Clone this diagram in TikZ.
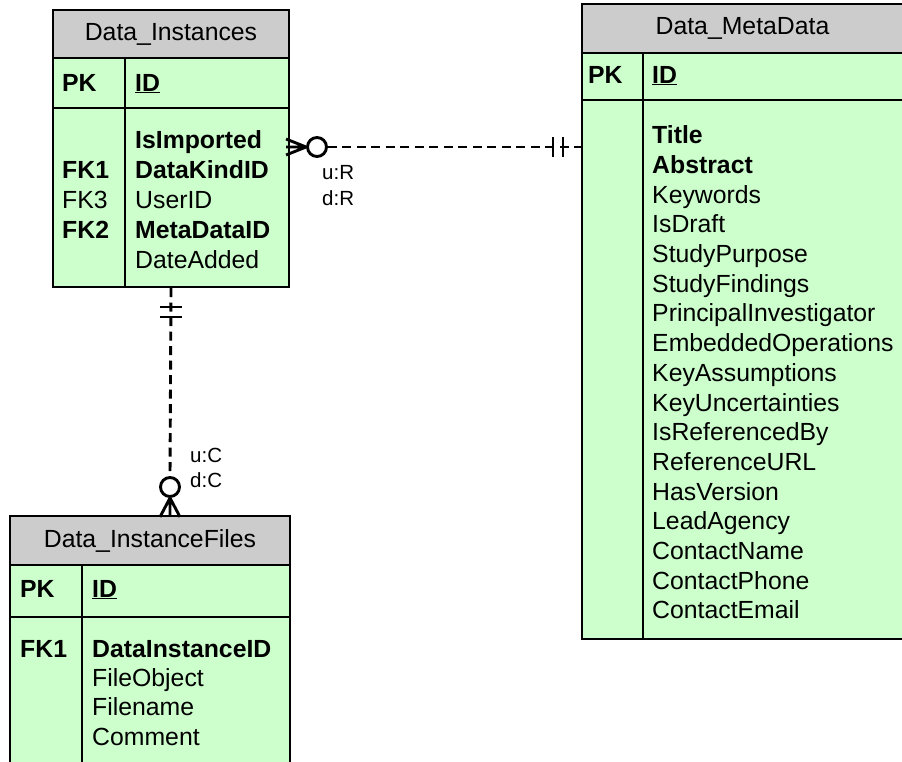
\documentclass[tikz,border=0pt]{standalone}
\usepackage{fontspec}
\setmainfont{Liberation Sans}
\usepackage{color}
\definecolor{headgray}{RGB}{204,204,204}
\definecolor{rowgreen}{RGB}{204,255,204}

\begin{document}
\begin{tikzpicture}[x=1pt,y=-1pt,
  head/.style={rectangle,draw,fill=headgray,line width=2pt,anchor=north west,inner sep=0pt,font=\fontsize{24.8}{28}\selectfont},
  row/.style={rectangle,draw,fill=rowgreen,line width=2pt,anchor=north west,inner sep=0pt},
  rule/.style={line width=2pt},
  txt/.style={anchor=base west,inner sep=0pt,font=\fontsize{24.8}{30}\selectfont},
  lines/.style={anchor=north west,inner sep=0pt,align=left},
  lbl/.style={anchor=base west,inner sep=0pt,font=\fontsize{20.5}{26}\selectfont},
  conn/.style={line width=2.9pt,dash pattern=on 9pt off 5.5pt},
  tick/.style={line width=2.9pt},
  ring/.style={circle,draw,line width=2.9pt,fill=white,minimum size=19pt,inner sep=0pt}]
\useasboundingbox (0,0) rectangle (902,761);
\clip (0,0) rectangle (902,761);

% Data_Instances
\node[head,minimum width=236,minimum height=48] (instHead) at (52,9) {Data\_Instances};
\node[row,minimum width=236,minimum height=50] (instPK) at (52,57) {};
\node[row,minimum width=236,minimum height=179] (instBody) at (52,107) {};
\draw[rule] ([xshift=73]instPK.north west) -- ([xshift=73]instBody.south west);
\node[txt] (instPKkey) at (62,91) {\textbf{PK}};
\node[txt] (instID) at (135,91) {\textbf{\underline{ID}}};
\node[lines,font=\fontsize{24.8}{30}\selectfont] (instKeys) at (62,127) {\strut\\ \textbf{FK1}\\ FK3\\ \textbf{FK2}};
\node[lines,font=\fontsize{24.8}{30}\selectfont] (instFields) at (135,127) {\strut\textbf{IsImported}\\ \textbf{DataKindID}\\ UserID\\ \textbf{MetaDataID}\\ DateAdded};

% Data_MetaData
\node[head,minimum width=340,minimum height=49] (metaHead) at (581,3) {\hspace*{-19pt}Data\_MetaData};
\node[row,minimum width=340,minimum height=47] (metaPK) at (581,52) {};
\node[row,minimum width=340,minimum height=539] (metaBody) at (581,99) {};
\draw[rule] ([xshift=62]metaPK.north west) -- ([xshift=62]metaBody.south west);
\node[txt] (metaPKkey) at (588,83) {\textbf{PK}};
\node[txt] (metaID) at (652,83) {\textbf{\underline{ID}}};
\node[lines,font=\fontsize{24.8}{29.7}\selectfont] (metaFields) at (652,122.7) {\strut\textbf{Title}\\ \textbf{Abstract}\\ Keywords\\ IsDraft\\ StudyPurpose\\ StudyFindings\\ PrincipalInvestigator\\ EmbeddedOperations\\ KeyAssumptions\\ KeyUncertainties\\ IsReferencedBy\\ ReferenceURL\\ HasVersion\\ LeadAgency\\ ContactName\\ ContactPhone\\ ContactEmail};

% Data_InstanceFiles
\node[head,minimum width=280,minimum height=49] (fileHead) at (9,515) {Data\_InstanceFiles};
\node[row,minimum width=280,minimum height=52] (filePK) at (9,564) {};
\node[row,minimum width=280,minimum height=200] (fileBody) at (9,616) {};
\draw[rule] ([xshift=73]filePK.north west) -- ([xshift=73]fileBody.south west);
\node[txt] (filePKkey) at (20,597) {\textbf{PK}};
\node[txt] (fileID) at (92,597) {\textbf{\underline{ID}}};
\node[txt] (fileKey) at (20,657) {\textbf{FK1}};
\node[lines,font=\fontsize{24.8}{29.3}\selectfont] (fileFields) at (92,636.5) {\strut\textbf{DataInstanceID}\\ FileObject\\ Filename\\ Comment};

% Data_Instances -- Data_MetaData
\node[ring] (o1) at (317,147) {};
\coordinate (m1) at (metaBody.west |- o1.east);
\draw[conn] (o1.east) -- (m1);
\draw[tick] (o1.west) -- ++(-20,-8) (o1.west) -- ++(-20,8) (o1.west) -- ++(-20,0);
\draw[tick] ([shift={(-28,-10)}]m1) -- ++(0,20) ([shift={(-18,-10)}]m1) -- ++(0,20);
\node[lbl] (uR) at (322,179) {u:R};
\node[lbl] (dR) at (322,205) {d:R};

% Data_Instances -- Data_InstanceFiles
\node[ring] (o2) at (170,487) {};
\draw[conn] (instBody.south) -- (o2.north);
\draw[tick] ([shift={(-11,19)}]instBody.south) -- ++(22,0) ([shift={(-11,29)}]instBody.south) -- ++(22,0);
\draw[tick] (o2.south) -- ++(-10,19) (o2.south) -- ++(10,19) (o2.south) -- ++(0,19);
\node[lbl] (uC) at (190,462) {u:C};
\node[lbl] (dC) at (190,487) {d:C};
\end{tikzpicture}
\end{document}
